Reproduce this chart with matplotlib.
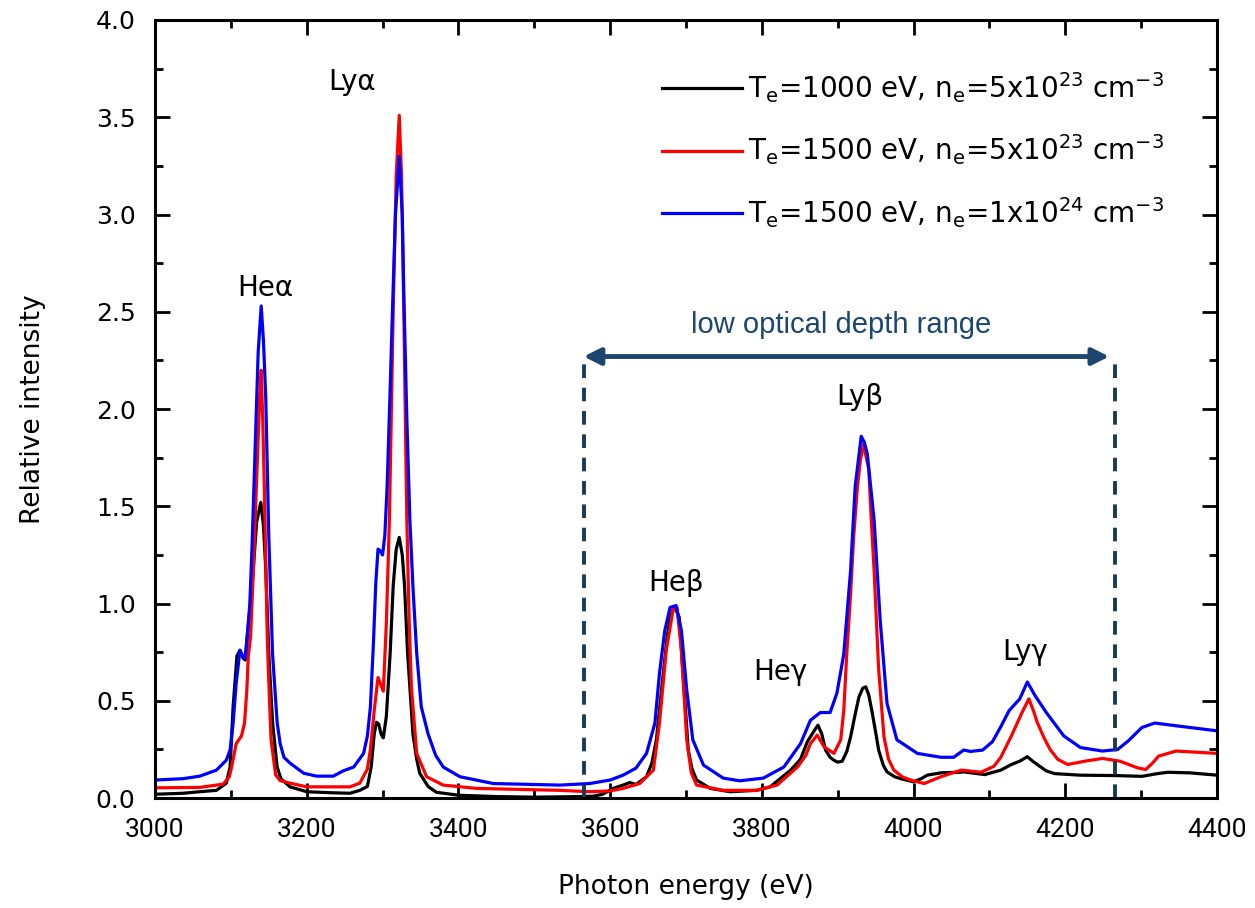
import numpy as np
import matplotlib
matplotlib.use("Agg")
import matplotlib.pyplot as plt
from matplotlib.ticker import MultipleLocator

# Te=1000 eV, ne=5e23 cm^-3
e_black = [3000, 3037, 3059, 3081, 3094, 3099, 3103, 3108, 3112, 3116, 3119, 3122, 3126, 3130, 3134,
           3139.5, 3143, 3146, 3150, 3155, 3161, 3166, 3178, 3200, 3230, 3257, 3270, 3280, 3285, 3289,
           3292, 3295, 3298, 3301, 3305, 3310, 3314, 3318, 3322, 3326, 3329, 3333, 3336, 3340, 3345,
           3349, 3360, 3371, 3400, 3450, 3500, 3560, 3578, 3590, 3604, 3617, 3626, 3634, 3648, 3655,
           3661, 3670, 3675, 3679, 3685, 3691, 3696, 3700, 3703, 3708, 3714, 3732, 3758, 3793, 3811,
           3838, 3851, 3860, 3868, 3874, 3879, 3884, 3890, 3895, 3900, 3906, 3912, 3917, 3923, 3928,
           3933, 3937, 3941, 3945, 3950, 3954, 3960, 3965, 3975, 3983, 4000, 4010, 4018, 4036, 4060,
           4066, 4094, 4115, 4129, 4140, 4150, 4157, 4163, 4175, 4186, 4220, 4266, 4301, 4320, 4335,
           4364, 4400]
i_black = [0.02, 0.025, 0.033, 0.04, 0.077, 0.16, 0.47, 0.73, 0.76, 0.72, 0.71, 0.85, 1.0, 1.2, 1.42,
           1.52, 1.40, 1.18, 0.74, 0.39, 0.16, 0.10, 0.058, 0.033, 0.028, 0.025, 0.04, 0.06, 0.16, 0.33,
           0.39, 0.38, 0.33, 0.31, 0.42, 0.745, 1.09, 1.28, 1.34, 1.25, 1.09, 0.745, 0.57, 0.33, 0.2,
           0.128, 0.06, 0.03, 0.015, 0.008, 0.005, 0.008, 0.01, 0.02, 0.05, 0.067, 0.08, 0.07, 0.11, 0.18,
           0.30, 0.64, 0.82, 0.93, 0.985, 0.93, 0.64, 0.42, 0.247, 0.15, 0.093, 0.05, 0.033, 0.04, 0.058,
           0.144, 0.2, 0.29, 0.34, 0.375, 0.33, 0.247, 0.21, 0.195, 0.185, 0.19, 0.24, 0.315, 0.43, 0.52,
           0.565, 0.572, 0.53, 0.45, 0.34, 0.247, 0.17, 0.135, 0.11, 0.10, 0.084, 0.10, 0.118, 0.13, 0.133,
           0.135, 0.121, 0.144, 0.173, 0.19, 0.213, 0.19, 0.173, 0.14, 0.126, 0.118, 0.116, 0.112, 0.125, 0.133,
           0.13, 0.118]

# Te=1500 eV, ne=5e23 cm^-3
e_red = [3000, 3059, 3090, 3098, 3101, 3107, 3114, 3118, 3121, 3123, 3126, 3130, 3133, 3136, 3138,
         3140, 3142, 3144, 3148, 3150, 3153, 3159, 3165, 3178, 3200, 3257, 3270, 3280, 3284, 3289,
         3294, 3298, 3301, 3305, 3309, 3314, 3318, 3322, 3325, 3328, 3332, 3335, 3338, 3345, 3358,
         3380, 3424, 3534, 3573, 3600, 3617, 3639, 3657, 3665, 3674, 3683, 3688, 3694, 3701, 3707,
         3714, 3749, 3793, 3820, 3847, 3858, 3864, 3873, 3882, 3895, 3904, 3908, 3912, 3917, 3921,
         3926, 3930, 3934, 3941, 3944, 3948, 3954, 3961, 3967, 3974, 3985, 3996, 4014, 4036, 4063,
         4089, 4106, 4115, 4129, 4143, 4152, 4158, 4163, 4172, 4180, 4190, 4203, 4226, 4249, 4272,
         4295, 4306, 4315, 4323, 4346, 4400]
i_red = [0.053, 0.055, 0.072, 0.11, 0.16, 0.28, 0.32, 0.385, 0.55, 0.73, 0.83, 1.2, 1.53, 1.85, 2.06,
         2.20, 1.95, 1.62, 0.83, 0.6, 0.30, 0.12, 0.09, 0.077, 0.058, 0.058, 0.077, 0.15, 0.25, 0.45,
         0.62, 0.58, 0.55, 0.9, 1.43, 2.5, 3.2, 3.51, 3.2, 2.5, 1.43, 0.92, 0.57, 0.23, 0.11,
         0.067, 0.05, 0.04, 0.033, 0.037, 0.05, 0.075, 0.144, 0.385, 0.76, 0.97, 0.98, 0.76, 0.30, 0.13,
         0.067, 0.04, 0.04, 0.067, 0.16, 0.22, 0.28, 0.324, 0.264, 0.23, 0.30, 0.45, 0.745, 1.05, 1.34,
         1.6, 1.74, 1.82, 1.69, 1.45, 1.17, 0.66, 0.315, 0.2, 0.144, 0.11, 0.093, 0.075, 0.11, 0.144,
         0.133, 0.164, 0.21, 0.32, 0.44, 0.51, 0.45, 0.39, 0.31, 0.25, 0.2, 0.173, 0.19, 0.204, 0.19,
         0.156, 0.147, 0.18, 0.216, 0.242, 0.23]

# Te=1500 eV, ne=1e24 cm^-3
e_blue = [3000, 3037, 3059, 3081, 3094, 3099, 3103, 3107, 3112, 3116, 3119, 3122, 3125, 3128, 3131,
          3136, 3140, 3143, 3146, 3150, 3155, 3161, 3165, 3170, 3178, 3196, 3213, 3235, 3248, 3262,
          3275, 3280, 3284, 3288, 3291, 3294, 3297, 3300, 3303, 3306, 3310, 3313, 3317, 3322, 3326,
          3328, 3332, 3336, 3340, 3345, 3351, 3360, 3370, 3380, 3402, 3446, 3534, 3573, 3600, 3617,
          3634, 3648, 3659, 3665, 3672, 3679, 3687, 3694, 3701, 3709, 3723, 3749, 3771, 3802, 3829,
          3851, 3864, 3877, 3890, 3899, 3908, 3917, 3923, 3931, 3935, 3939, 3948, 3956, 3965, 3978,
          4005, 4036, 4053, 4066, 4075, 4091, 4104, 4115, 4126, 4140, 4150, 4160, 4175, 4198, 4220,
          4249, 4269, 4283, 4301, 4318, 4346, 4400]
i_blue = [0.093, 0.10, 0.113, 0.144, 0.195, 0.247, 0.385, 0.59, 0.76, 0.73, 0.72, 0.85, 1.0, 1.3, 1.67,
          2.29, 2.53, 2.35, 2.06, 1.35, 0.74, 0.39, 0.28, 0.21, 0.18, 0.128, 0.113, 0.113, 0.14, 0.16,
          0.23, 0.32, 0.47, 0.8, 1.1, 1.28, 1.27, 1.25, 1.35, 1.6, 2.1, 2.5, 3.0, 3.30, 3.0,
          2.6, 1.95, 1.43, 1.09, 0.745, 0.47, 0.33, 0.22, 0.16, 0.11, 0.075, 0.067, 0.075, 0.093, 0.118,
          0.154, 0.23, 0.385, 0.64, 0.86, 0.98, 0.99, 0.86, 0.555, 0.30, 0.17, 0.103, 0.089, 0.103, 0.16,
          0.28, 0.40, 0.44, 0.44, 0.54, 0.74, 1.17, 1.60, 1.86, 1.83, 1.77, 1.43, 0.915, 0.487, 0.30,
          0.23, 0.21, 0.21, 0.247, 0.24, 0.247, 0.29, 0.367, 0.45, 0.51, 0.597, 0.528, 0.44, 0.32, 0.26,
          0.242, 0.25, 0.294, 0.363, 0.386, 0.372, 0.346]

labels = [r"T$_\mathregular{e}$=1000 eV, n$_\mathregular{e}$=5x10$^\mathregular{23}$ cm$^\mathregular{-3}$",
          r"T$_\mathregular{e}$=1500 eV, n$_\mathregular{e}$=5x10$^\mathregular{23}$ cm$^\mathregular{-3}$",
          r"T$_\mathregular{e}$=1500 eV, n$_\mathregular{e}$=1x10$^\mathregular{24}$ cm$^\mathregular{-3}$"]

# line names and where they sit (eV, intensity)
line_names = ["He\u03b1", "Ly\u03b1", "He\u03b2", "He\u03b3", "Ly\u03b2", "Ly\u03b3"]
name_x = [3145, 3260, 3687, 3824, 3929, 4147]
name_y = [2.62, 3.68, 1.105, 0.648, 2.06, 0.75]

# low optical depth window
window = [3565, 4265]

fig = plt.figure(figsize=(12.55, 9.08), dpi=100)
ax = fig.add_axes([0.1235, 0.121, 0.8462, 0.857])

ax.plot(e_black, i_black, color="black", lw=2.3, label=labels[0])
ax.plot(e_red, i_red, color="#ff0000", lw=2.3, label=labels[1])
ax.plot(e_blue, i_blue, color="#0000ff", lw=2.3, label=labels[2])

ax.set_xlim(3000, 4400)
ax.set_ylim(0, 4.0)
ax.xaxis.set_major_locator(MultipleLocator(200))
ax.xaxis.set_minor_locator(MultipleLocator(100))
ax.yaxis.set_major_locator(MultipleLocator(0.5))
ax.yaxis.set_minor_locator(MultipleLocator(0.25))
ax.yaxis.set_major_formatter(plt.FormatStrFormatter("%.1f"))
ax.tick_params(which="both", direction="in", top=True, right=True, width=2)
ax.tick_params(which="major", length=11)
ax.tick_params(which="minor", length=6)
ax.tick_params(axis="x", pad=14)
ax.tick_params(axis="y", pad=14)
for s in ax.spines.values():
    s.set_linewidth(2.2)

for t in ax.get_xticklabels():
    t.set_family("Roboto")
    t.set_fontsize(19)
for t in ax.get_yticklabels():
    t.set_family("DejaVu Sans")
    t.set_fontsize(18)

ax.set_xlabel("Photon energy (eV)", family="DejaVu Sans", fontsize=19, labelpad=23)
ax.set_ylabel("Relative intensity", family="DejaVu Sans", fontsize=19, labelpad=36)

for name, x, y in zip(line_names, name_x, name_y):
    ax.text(x, y, name, family="DejaVu Sans", fontsize=20, ha="center", va="center")

# window marks and arrow
dark = "#1a3a52"
for x in window:
    ax.plot([x, x], [0, 2.23], color=dark, lw=2.8, ls=(0, (3.5, 2.5)))
ax.annotate("", xy=(window[0], 2.27), xytext=(window[1] - 7, 2.27),
            arrowprops=dict(arrowstyle="<|-|>", color="#1b4670", lw=3.5,
                            mutation_scale=25, shrinkA=0, shrinkB=0))
ax.text(sum(window) / 2 - 10, 2.36, "low optical depth range", color="#1b4670",
        family="Liberation Sans", fontsize=21, ha="center", va="bottom")

leg = ax.legend(loc="upper left", bbox_to_anchor=(0.4535, 0.968), frameon=False,
                handlelength=2.9, handletextpad=0.2, labelspacing=1.0,
                prop={"family": "DejaVu Sans", "size": 20})

fig.savefig("out.png", dpi=100)
